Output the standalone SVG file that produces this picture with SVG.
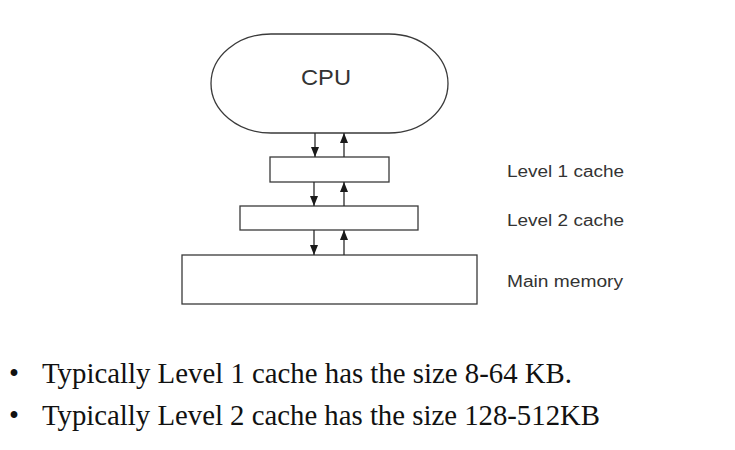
<svg xmlns="http://www.w3.org/2000/svg" width="735" height="450" viewBox="0 0 735 450">
<style>
.box{fill:#fff;stroke:#3a3a3a;stroke-width:1.3}
.conn{stroke:#2a2a2a;stroke-width:1.3;fill:none}
.sans{font-family:"Liberation Sans",Arial,sans-serif;fill:#333}
.lbl{font-size:16px}
.serif{font-family:"Liberation Serif","Times New Roman",serif;font-size:28.5px;fill:#111}
</style>
<defs>
<marker id="ah" markerUnits="userSpaceOnUse" markerWidth="9" markerHeight="10" viewBox="0 0 9 10" refX="4.5" refY="10" orient="auto-start-reverse">
<path d="M0,0 L9,0 L4.5,10 Z" fill="#1a1a1a" transform="rotate(0)"/>
</marker>
<marker id="down" markerUnits="userSpaceOnUse" markerWidth="8" markerHeight="10" viewBox="0 0 8 10" refX="4" refY="10" orient="0">
<path d="M0,0 L8,0 L4,10 Z" fill="#1a1a1a"/>
</marker>
<marker id="up" markerUnits="userSpaceOnUse" markerWidth="8" markerHeight="10" viewBox="0 0 8 10" refX="4" refY="0" orient="0">
<path d="M0,10 L8,10 L4,0 Z" fill="#1a1a1a"/>
</marker>
</defs>
<rect width="735" height="450" fill="#fff"/>
<g id="cpu">
<path class="box" d="M271,34 H389 A59,49.5 0 0 1 389,133 H271 A60,49.5 0 0 1 271,34 Z"/>
<text class="sans" x="326" y="85" font-size="22" text-anchor="middle" textLength="50" lengthAdjust="spacingAndGlyphs">CPU</text>
</g>
<g id="l1">
<rect class="box" x="270" y="157" width="119" height="25"/>
<text class="sans lbl" x="507" y="177" textLength="117" lengthAdjust="spacingAndGlyphs">Level 1 cache</text>
</g>
<g id="l2">
<rect class="box" x="240" y="206" width="178" height="24"/>
<text class="sans lbl" x="507" y="226" textLength="117" lengthAdjust="spacingAndGlyphs">Level 2 cache</text>
</g>
<g id="mem">
<rect class="box" x="182" y="255" width="295" height="49"/>
<text class="sans lbl" x="507" y="287" textLength="116" lengthAdjust="spacingAndGlyphs">Main memory</text>
</g>
<g id="connectors">
<line class="conn" x1="315" y1="133" x2="315" y2="157" marker-end="url(#down)"/>
<line class="conn" x1="344" y1="157" x2="344" y2="133" marker-end="url(#up)"/>
<line class="conn" x1="314" y1="182" x2="314" y2="206" marker-end="url(#down)"/>
<line class="conn" x1="344" y1="206" x2="344" y2="182" marker-end="url(#up)"/>
<line class="conn" x1="314" y1="230" x2="314" y2="255" marker-end="url(#down)"/>
<line class="conn" x1="344" y1="255" x2="344" y2="230" marker-end="url(#up)"/>
</g>
<g id="bullets">
<text class="serif" x="14" y="383" text-anchor="middle">•</text>
<text class="serif" x="42" y="383" textLength="530" lengthAdjust="spacingAndGlyphs">Typically Level 1 cache has the size 8-64 KB.</text>
<text class="serif" x="14" y="425" text-anchor="middle">•</text>
<text class="serif" x="42" y="425" textLength="558" lengthAdjust="spacingAndGlyphs">Typically Level 2 cache has the size 128-512KB</text>
</g>
</svg>
